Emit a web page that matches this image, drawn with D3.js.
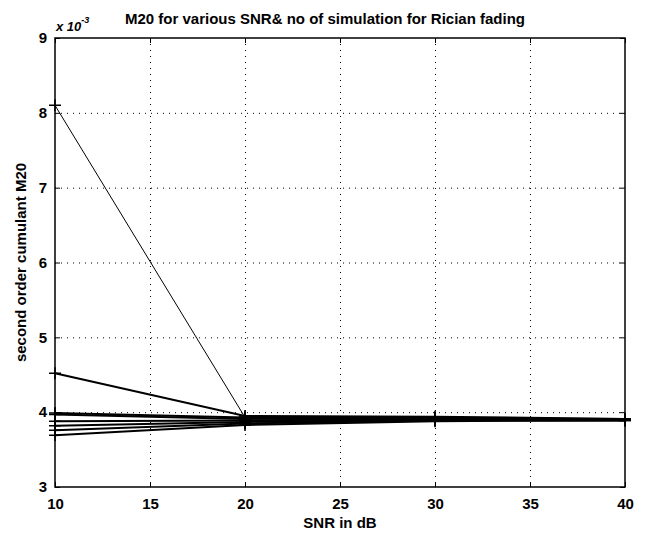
<!DOCTYPE html>
<html>
<head>
<meta charset="utf-8">
<script src="https://cdn.jsdelivr.net/npm/d3@7"></script>
<style>
  body { margin: 0; background: #fff; }
  text { font-family: "Liberation Sans", Arial, sans-serif; fill: #000; }
</style>
</head>
<body>
<div id="chart"></div>
<script>
// SNR values (dB)
var snr = [10, 20, 30, 40];

// M20 values (x 10^-3), one array per simulation run
var run1 = [8.10, 3.93, 3.93, 3.91];
var run2 = [4.52, 3.95, 3.94, 3.91];
var run3 = [3.99, 3.93, 3.92, 3.91];
var run4 = [3.97, 3.91, 3.92, 3.90];
var run5 = [3.88, 3.89, 3.91, 3.90];
var run6 = [3.82, 3.87, 3.90, 3.90];
var run7 = [3.76, 3.85, 3.89, 3.89];
var run8 = [3.69, 3.83, 3.88, 3.89];
var runs = [run1, run2, run3, run4, run5, run6, run7, run8];

var xTicks = [10, 15, 20, 25, 30, 35, 40];
var yTicks = [3, 4, 5, 6, 7, 8, 9];

var svgWidth = 646;
var svgHeight = 536;
var margin = { top: 38, right: 21, bottom: 49, left: 55 };
var chartWidth = svgWidth - margin.left - margin.right;
var chartHeight = svgHeight - margin.top - margin.bottom;

var svg = d3.select("#chart")
  .append("svg")
  .attr("width", svgWidth)
  .attr("height", svgHeight);

var chartGroup = svg.append("g")
  .attr("transform", `translate(${margin.left}, ${margin.top})`);

var xScale = d3.scaleLinear().domain([10, 40]).range([0, chartWidth]);
var yScale = d3.scaleLinear().domain([3, 9]).range([chartHeight, 0]);

// dotted grid
chartGroup.selectAll(".xgrid").data(xTicks.slice(1, -1)).enter()
  .append("line")
  .attr("x1", d => xScale(d) + 0.5).attr("x2", d => xScale(d) + 0.5)
  .attr("y1", 0).attr("y2", chartHeight)
  .attr("stroke", "#000").attr("stroke-width", 1)
  .attr("stroke-dasharray", "1,5");

chartGroup.selectAll(".ygrid").data(yTicks.slice(1, -1)).enter()
  .append("line")
  .attr("y1", d => yScale(d) + 0.5).attr("y2", d => yScale(d) + 0.5)
  .attr("x1", 0).attr("x2", chartWidth)
  .attr("stroke", "#000").attr("stroke-width", 1)
  .attr("stroke-dasharray", "1,5");

// lines
var line = d3.line()
  .x((d, i) => xScale(snr[i]))
  .y(d => yScale(d));

chartGroup.selectAll(".run").data(runs).enter()
  .append("path")
  .attr("d", line)
  .attr("fill", "none")
  .attr("stroke", "#000")
  .attr("stroke-width", (d, i) => i === 0 ? 1 : 2);

// "+" markers
runs.forEach(function(r) {
  r.forEach(function(v, i) {
    var cx = xScale(snr[i]), cy = yScale(v);
    chartGroup.append("path")
      .attr("d", `M${cx - 6},${cy}H${cx + 6}M${cx},${cy - 6}V${cy + 6}`)
      .attr("stroke", "#000").attr("stroke-width", 1.5);
  });
});

// axes with inner ticks
var fmt = d3.format("d");
var xAxis = d3.axisBottom(xScale).tickValues(xTicks).tickSizeInner(-5).tickSizeOuter(0).tickPadding(11).tickFormat(fmt);
var yAxis = d3.axisLeft(yScale).tickValues(yTicks).tickSizeInner(-5).tickSizeOuter(0).tickPadding(8).tickFormat(fmt);

chartGroup.append("g")
  .attr("class", "axis")
  .attr("transform", `translate(0, ${chartHeight})`)
  .call(xAxis);

chartGroup.append("g")
  .attr("class", "axis")
  .call(yAxis);

chartGroup.append("g")
  .call(d3.axisTop(xScale).tickValues(xTicks).tickSizeInner(-5).tickSizeOuter(0).tickFormat(""));

chartGroup.append("g")
  .attr("transform", `translate(${chartWidth}, 0)`)
  .call(d3.axisRight(yScale).tickValues(yTicks).tickSizeInner(-5).tickSizeOuter(0).tickFormat(""));

chartGroup.selectAll(".axis text")
  .style("font-size", "15px")
  .style("font-weight", "bold")
  .style("font-family", "'Liberation Sans', Arial, sans-serif");
chartGroup.selectAll(".domain").remove();

// box
chartGroup.append("rect")
  .attr("x", 0).attr("y", 0)
  .attr("width", chartWidth).attr("height", chartHeight)
  .attr("fill", "none").attr("stroke", "#000").attr("stroke-width", 1.5);

// exponent label
var expo = svg.append("text")
  .attr("x", margin.left + 1)
  .attr("y", 31)
  .style("font-size", "13px")
  .style("font-weight", "bold")
  .style("font-style", "italic");
expo.append("tspan").text("x 10");
expo.append("tspan").attr("dy", -8).style("font-size", "9px").text("-3");

// title
svg.append("text")
  .attr("x", 325)
  .attr("y", 24)
  .attr("text-anchor", "middle")
  .style("font-size", "15px")
  .style("font-weight", "bold")
  .text("M20 for various SNR& no of simulation for Rician fading");

// axis labels
svg.append("text")
  .attr("x", margin.left + chartWidth / 2)
  .attr("y", 528)
  .attr("text-anchor", "middle")
  .style("font-size", "15px")
  .style("font-weight", "bold")
  .text("SNR in dB");

svg.append("text")
  .attr("transform", `translate(26, ${margin.top + chartHeight / 2}) rotate(-90)`)
  .attr("text-anchor", "middle")
  .style("font-size", "15px")
  .style("font-weight", "bold")
  .text("second order cumulant M20");
</script>
</body>
</html>
